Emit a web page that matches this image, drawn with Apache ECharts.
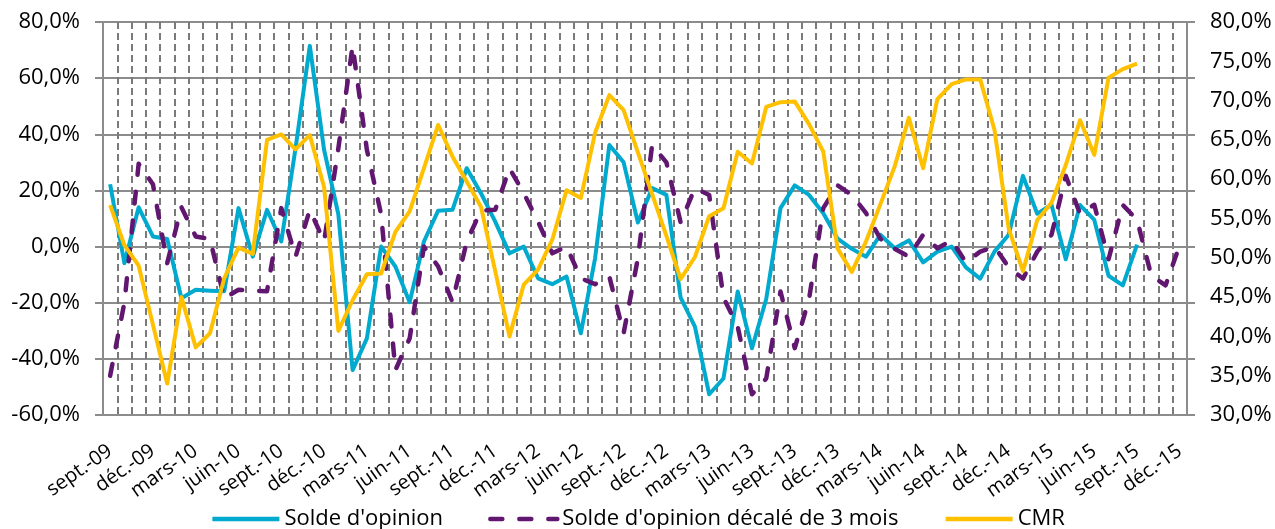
<!DOCTYPE html>
<html>
<head>
<meta charset="utf-8">
<script src="https://cdn.jsdelivr.net/npm/echarts@6/dist/echarts.min.js"></script>
<style>
html,body{margin:0;padding:0;background:#fff;}
#chart{width:1275px;height:529px;}
</style>
</head>
<body>
<div id="chart"></div>
<script>
const categories = [
 "sept.-09","oct.-09","nov.-09","déc.-09",
 "janv.-10","févr.-10","mars-10","avr.-10","mai-10","juin-10","juil.-10","août-10","sept.-10","oct.-10","nov.-10","déc.-10",
 "janv.-11","févr.-11","mars-11","avr.-11","mai-11","juin-11","juil.-11","août-11","sept.-11","oct.-11","nov.-11","déc.-11",
 "janv.-12","févr.-12","mars-12","avr.-12","mai-12","juin-12","juil.-12","août-12","sept.-12","oct.-12","nov.-12","déc.-12",
 "janv.-13","févr.-13","mars-13","avr.-13","mai-13","juin-13","juil.-13","août-13","sept.-13","oct.-13","nov.-13","déc.-13",
 "janv.-14","févr.-14","mars-14","avr.-14","mai-14","juin-14","juil.-14","août-14","sept.-14","oct.-14","nov.-14","déc.-14",
 "janv.-15","févr.-15","mars-15","avr.-15","mai-15","juin-15","juil.-15","août-15","sept.-15","oct.-15","nov.-15","déc.-15"
];

const soldeOpinion = [22.2, -5.9, 14, 3.6, 2.7, -18.4, -15.4, -15.7, -15.9, 13.7, -3.6, 13.1, 1.8, 35, 71.5, 34.5, 11.5, -44, -32.7, 0,
 -7.1, -19.8, 1.8, 12.8, 13.1, 27.9, 19, 8.9, -2.4, 0, -11.3, -13.4, -10.7, -30.9, -4.2, 36.2, 30, 8.6, 20.8, 18.4,
 -18.2, -28.5, -52.6, -47, -16, -36.2, -18.7, 13.7, 21.8, 18.4, 11.9, 2.8, -0.8, -3.6, 4.2, -0.6, 2.2, -5.6, -1.8, 0,
 -7.4, -11.4, -1.8, 4.2, 25.2, 11.7, 14.9, -4.5, 14.8, 9.5, -10.4, -13.8, 0.7];

const soldeDecale = [-46, -20, 29.5,
 22.2, -5.9, 14, 3.6, 2.7, -18.4, -15.4, -15.7, -15.9, 13.7, -3.6, 13.1, 1.8, 35, 71.5, 34.5, 11.5, -44, -32.7, 0,
 -7.1, -19.8, 1.8, 12.8, 13.1, 27.9, 19, 8.9, -2.4, 0, -11.3, -13.4, -10.7, -30.9, -4.2, 36.2, 30, 8.6, 20.8, 18.4,
 -18.2, -28.5, -52.6, -47, -16, -36.2, -18.7, 13.7, 21.8, 18.4, 11.9, 2.8, -0.8, -3.6, 4.2, -0.6, 2.2, -5.6, -1.8, 0,
 -7.4, -11.4, -1.8, 4.2, 25.2, 11.7, 14.9, -4.5, 14.8, 9.5, -10.4, -13.8, 0.7];

const cmr = [56.7, 51.6, 49.0, 41.5, 34.0, 45.0, 38.6, 40.4, 47.4, 51.3, 50.5, 65.0, 65.7, 63.8, 65.6, 59.0, 40.7, 44.6, 47.9, 48.0,
 53.3, 55.9, 61.4, 66.9, 62.9, 59.7, 56.5, 48.3, 40.0, 46.6, 48.5, 52.3, 58.6, 57.6, 65.9, 70.7, 68.8, 63.4, 58.1, 52.8,
 47.3, 50.1, 55.3, 56.3, 63.5, 62.0, 69.2, 69.8, 69.9, 67.0, 63.5, 51.2, 48.2, 52.1, 56.8, 61.6, 67.8, 61.4, 70.2, 72.1,
 72.7, 72.7, 66.3, 53.7, 48.3, 54.8, 57.0, 61.8, 67.5, 63.1, 72.9, 74.0, 74.7];

const seriesNames = ["Solde d'opinion", "Solde d'opinion décalé de 3 mois", "CMR"];

const FONT = "Open Sans";
const pct = v => v.toFixed(1).replace('.', ',') + '%';
const gridGray = '#8c8c8c';

const chart = echarts.init(document.getElementById('chart'), null, {renderer: 'canvas'});
chart.setOption({
  animation: false,
  backgroundColor: '#fff',
  grid: {left: 103, right: 88, top: 22, bottom: 114, containLabel: false},
  legend: {
    data: seriesNames,
    left: 'center',
    top: 503,
    itemWidth: 67,
    itemHeight: 14,
    itemGap: 45,
    itemStyle: {opacity: 0},
    lineStyle: {width: 4.5},
    textStyle: {fontFamily: FONT, fontSize: 22, color: '#000'}
  },
  xAxis: {
    type: 'category',
    data: categories,
    boundaryGap: true,
    axisLine: {show: true, lineStyle: {color: gridGray, width: 2}},
    axisTick: {show: false},
    axisLabel: {interval: 2, rotate: 35, margin: 34, fontFamily: FONT, fontSize: 20, color: '#000'},
    splitLine: {show: true, interval: 0, lineStyle: {color: '#7a7a7a', width: 2, type: [7, 4]}}
  },
  yAxis: [
    {
      type: 'value', position: 'left', min: -60, max: 80, interval: 20,
      axisLine: {show: true, lineStyle: {color: gridGray, width: 2}},
      axisTick: {show: true, length: 8, lineStyle: {color: gridGray, width: 2}},
      axisLabel: {formatter: pct, margin: 23, fontFamily: FONT, fontSize: 22, color: '#000'},
      splitLine: {show: true, lineStyle: {color: gridGray, width: 2}}
    },
    {
      type: 'value', position: 'right', min: 30, max: 80, interval: 5,
      axisLine: {show: true, lineStyle: {color: gridGray, width: 2}},
      axisTick: {show: false},
      axisLabel: {formatter: pct, margin: 23, fontFamily: FONT, fontSize: 22, color: '#000'},
      splitLine: {show: false}
    },
    {
      type: 'value', position: 'right', min: -60, max: 80, interval: 20,
      axisLine: {show: false},
      axisTick: {show: true, length: 8, lineStyle: {color: gridGray, width: 2}},
      axisLabel: {show: false},
      splitLine: {show: false}
    }
  ],
  series: [
    {
      name: seriesNames[0], type: 'line', yAxisIndex: 0, data: soldeOpinion,
      symbol: 'none', lineStyle: {color: '#00A9CE', width: 4, join: 'round'}, itemStyle: {color: '#00A9CE'}, z: 3
    },
    {
      name: seriesNames[1], type: 'line', yAxisIndex: 0, data: soldeDecale,
      symbol: 'none', lineStyle: {color: '#611770', width: 4.5, type: [12, 17], cap: 'round', join: 'round'}, itemStyle: {color: '#611770'}, z: 4
    },
    {
      name: seriesNames[2], type: 'line', yAxisIndex: 1, data: cmr,
      symbol: 'none', lineStyle: {color: '#FFC000', width: 4, join: 'round'}, itemStyle: {color: '#FFC000'}, z: 5
    }
  ]
});
</script>
</body>
</html>
